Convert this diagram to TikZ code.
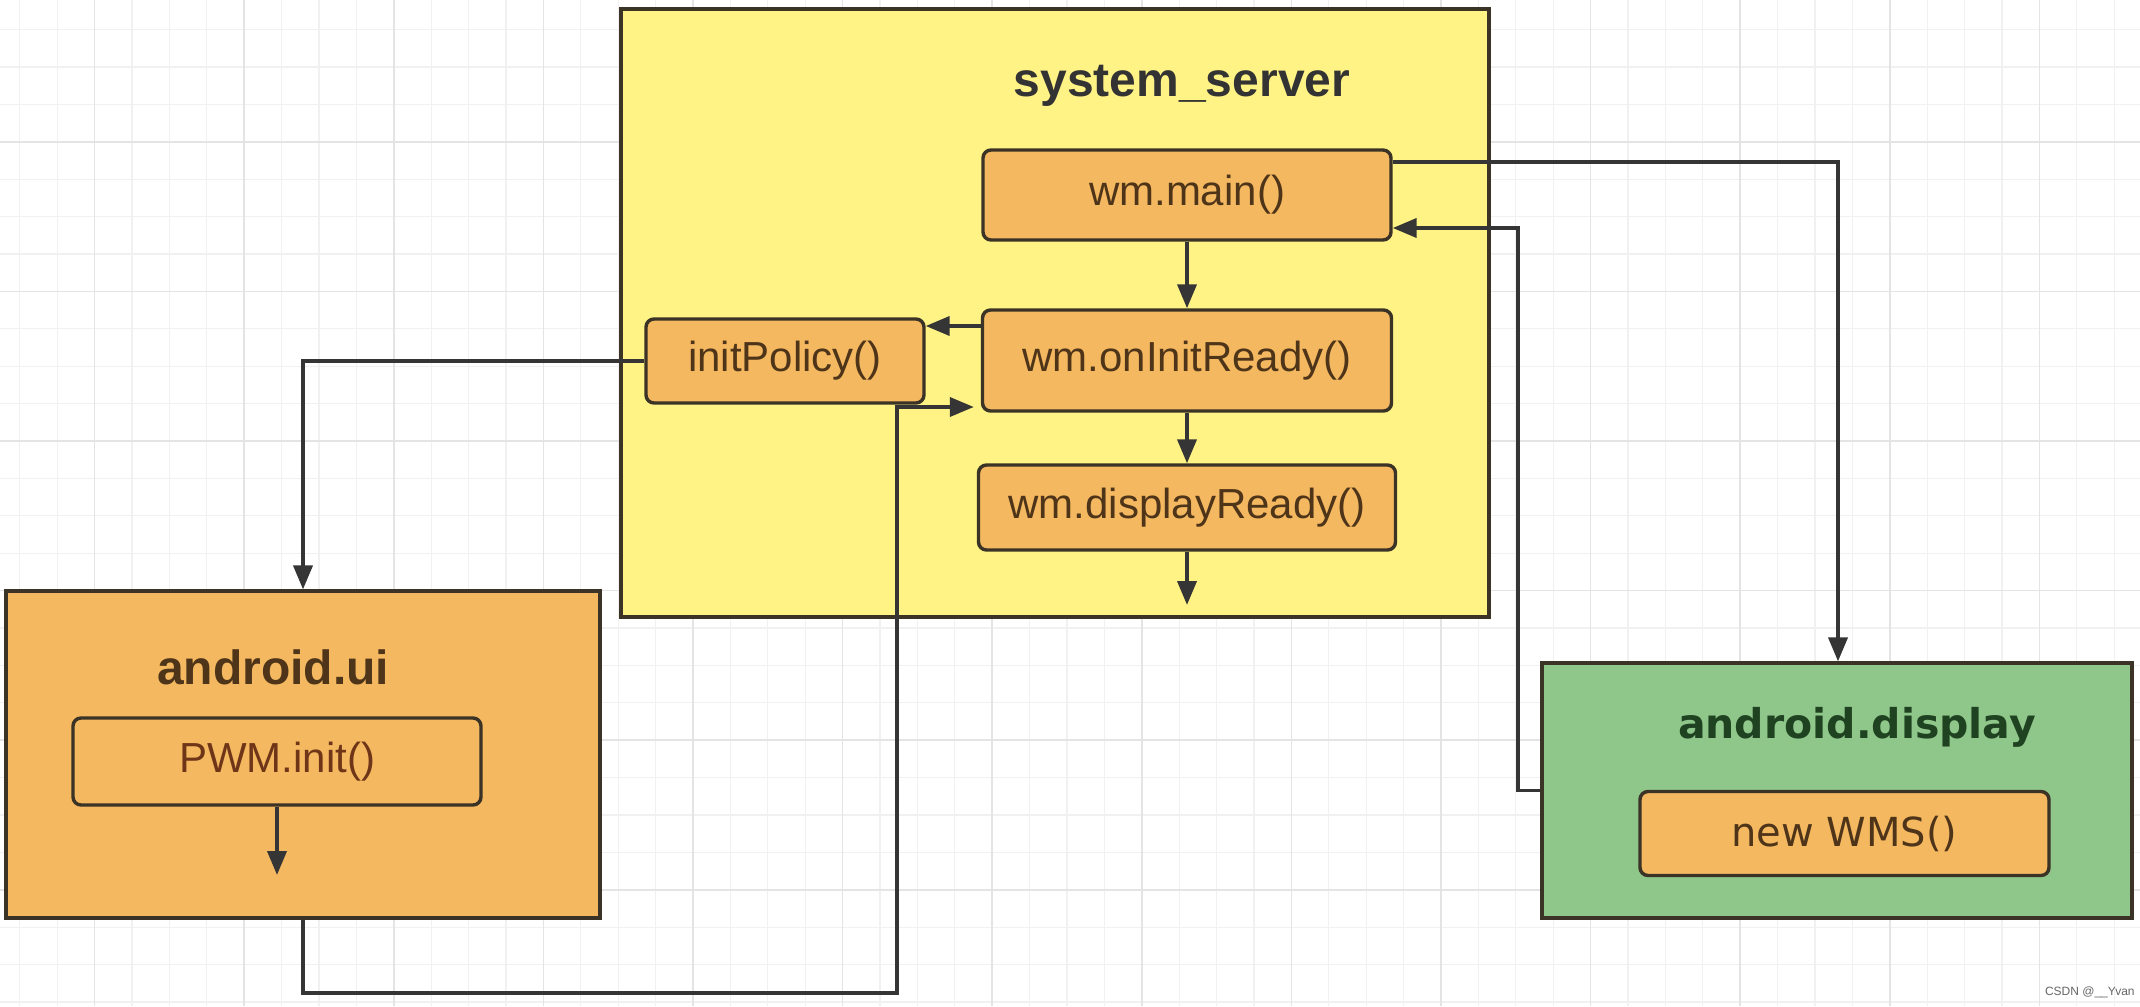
\documentclass[tikz,border=0pt]{standalone}
\usepackage{fontspec}
\setmainfont{Liberation Sans}
\newfontfamily\dvfont{DejaVu Sans}
\usetikzlibrary{arrows.meta}
\definecolor{ybox}{HTML}{FFF386}
\definecolor{obox}{HTML}{F4B860}
\definecolor{gbox}{HTML}{8FC78B}
\definecolor{bordc}{HTML}{3A3326}
\definecolor{linec}{HTML}{353535}
\definecolor{txtbrown}{HTML}{4E3418}
\definecolor{txtred}{HTML}{6E3518}
\definecolor{txtgreen}{HTML}{1F4220}
\definecolor{gridmin}{HTML}{F1F1F1}
\definecolor{gridmaj}{HTML}{E4E4E4}
\begin{document}
\begin{tikzpicture}[x=0.5pt,y=-0.5pt,
  outerbox/.style={draw=bordc, line width=1.6pt, inner sep=0pt},
  innerbox/.style={draw=bordc, fill=obox, rounded corners=4pt, line width=1.7pt, inner sep=0pt,
    text=txtbrown, font=\fontsize{21}{25}\selectfont},
  titletext/.style={font=\bfseries\fontsize{24}{28}\selectfont, inner sep=0pt},
  conn/.style={draw=linec, line width=1.9pt, -{Triangle[length=12pt,width=9.5pt]}},
]
\useasboundingbox (0,0) rectangle (2140,1006);
\fill[white] (0,0) rectangle (2140,1006);
% grid
\foreach \i in {-3,...,54} \draw[gridmin, line width=0.6pt] ({94.5+37.4*\i},0) -- ++(0,1006);
\foreach \j in {-4,...,24} \draw[gridmin, line width=0.6pt] (0,{141.8+37.4*\j}) -- ++(2140,0);
\foreach \i in {-1,...,14} \draw[gridmaj, line width=0.8pt] ({94.5+149.6*\i},0) -- ++(0,1006);
\foreach \j in {-1,...,6} \draw[gridmaj, line width=0.8pt] (0,{141.8+149.6*\j}) -- ++(2140,0);

% containers
\node[outerbox, fill=ybox, minimum width=434pt, minimum height=304pt] (sys) at (1055,313) {};
\node[titletext, text=black!80] (systitle) at (1182,86) {system\_server};
\node[outerbox, fill=obox, minimum width=297pt, minimum height=163.5pt] (ui) at (303,754.5) {};
\node[titletext, text=txtbrown] (uititle) at (273,667) {android.ui};
\node[outerbox, fill=gbox, minimum width=295pt, minimum height=127.5pt] (dsp) at (1837,790.5) {};
\node[font=\dvfont\bfseries\fontsize{20.5}{24}\selectfont, text=txtgreen, inner sep=0pt] (dsptitle) at (1857,727) {android.display};

% inner boxes
\node[innerbox, minimum width=204pt, minimum height=45pt] (main) at (1187,195) {wm.main()};
\node[innerbox, minimum width=204.5pt, minimum height=50.5pt] (init) at (1187,360.5) {wm.onInitReady()};
\node[innerbox, minimum width=139pt, minimum height=42pt] (policy) at (785,361) {initPolicy()};
\node[innerbox, minimum width=208.5pt, minimum height=42.5pt] (disp) at (1187,507.5) {wm.displayReady()};
\node[innerbox, text=txtred, minimum width=204pt, minimum height=43.5pt] (pwm) at (277,761.5) {PWM.init()};
\node[innerbox, font=\dvfont\fontsize{20}{24}\selectfont, minimum width=204.5pt, minimum height=42pt] (wms) at (1844.5,833.5) {new WMS()};

% coordinates
\coordinate (c1) at (1838,162);
\coordinate (c2) at (1518,228);
\coordinate (c3) at (897,993);
\coordinate (c4) at (897,407);
\coordinate (c5) at (950,326);
\coordinate (e1) at (1187,605);
\coordinate (e2) at (277,875);

% connectors
\draw[conn] (main.east |- c1) -- (c1) -- (dsp.north -| c1);
\draw[conn] (dsp.west) -| (c2) -- (c2 -| main.east);
\draw[conn] (policy.west) -| (ui.north);
\draw[conn, shorten >=3.5pt] (ui.south) |- (c3) -- (c4) -- (c4 -| init.west);
\draw[conn] (c5 -| init.west) -- (c5 -| policy.east);
\draw[conn] (main.south) -- (init.north);
\draw[conn] (init.south) -- (disp.north);
\draw[conn] (disp.south) -- (e1);
\draw[conn] (pwm.south) -- (e2);

\node[font=\fontsize{6}{7}\selectfont, text=black!60, anchor=east, inner sep=0pt] (credit) at (2135,992) {CSDN @\_\_Yvan};
\end{tikzpicture}
\end{document}
